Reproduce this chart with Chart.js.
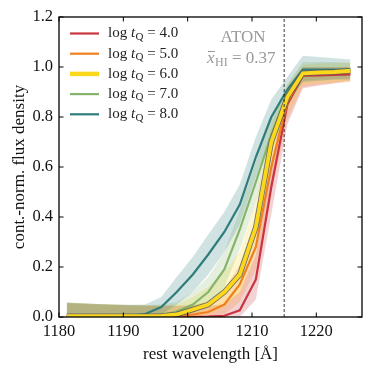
<!DOCTYPE html>
<html><head><meta charset="utf-8">
<script src="https://cdn.jsdelivr.net/npm/chart.js@4"></script>
<style>html,body{margin:0;padding:0;background:#fff;}#wrap{width:373px;height:375px;position:relative;}</style>
</head><body><div id="wrap"><canvas id="c" width="373" height="375"></canvas></div>
<script>
// ---------- data ----------
const wavelength = [1181.2,1183.6,1186.1,1188.5,1191.0,1193.4,1195.9,1198.3,1200.8,1203.2,1205.7,1208.1,1210.6,1213.0,1215.5,1217.9,1220.4,1222.8,1225.3];
const seriesLabels = ['4.0','5.0','6.0','7.0','8.0'];
// log tQ = 4.0
const flux4  = [0.001,0.001,0.001,0.001,0.001,0.001,0.001,0.001,0.001,0.002,0.005,0.027,0.15,0.52,0.85,0.965,0.966,0.968,0.97];
const up4    = [0.055,0.052,0.050,0.048,0.046,0.045,0.044,0.044,0.044,0.045,0.05,0.10,0.25,0.62,0.91,1.0,1.0,1.0,1.0];
const lo4    = [0,0,0,0,0,0,0,0,0,0,0,0.0,0.07,0.41,0.77,0.915,0.925,0.935,0.945];
// log tQ = 5.0
const flux5  = [0.002,0.002,0.002,0.002,0.002,0.002,0.002,0.003,0.01,0.02,0.05,0.13,0.28,0.60,0.86,0.97,0.972,0.975,0.978];
const up5    = [0.057,0.054,0.051,0.049,0.047,0.046,0.045,0.046,0.05,0.06,0.11,0.21,0.37,0.69,0.92,1.0,1.0,1.0,1.0];
const lo5    = [0,0,0,0,0,0,0,0,0,0,0.01,0.06,0.19,0.50,0.79,0.92,0.93,0.935,0.94];
// log tQ = 6.0
const flux6  = [0.003,0.003,0.003,0.003,0.003,0.003,0.004,0.01,0.03,0.05,0.10,0.17,0.36,0.70,0.88,0.975,0.978,0.98,0.985];
const up6    = [0.058,0.055,0.052,0.05,0.048,0.047,0.047,0.05,0.08,0.12,0.18,0.26,0.46,0.77,0.93,1.01,1.015,1.015,1.02];
const lo6    = [0,0,0,0,0,0,0,0,0,0.01,0.04,0.09,0.26,0.61,0.82,0.93,0.935,0.94,0.945];
// log tQ = 7.0
const flux7  = [0.003,0.003,0.003,0.003,0.003,0.003,0.008,0.022,0.05,0.10,0.19,0.35,0.54,0.73,0.89,0.985,0.985,0.985,0.985];
const up7    = [0.058,0.055,0.052,0.05,0.048,0.047,0.05,0.06,0.10,0.16,0.26,0.43,0.62,0.80,0.93,1.02,1.02,1.02,1.015];
const lo7    = [0,0,0,0,0,0,0,0.005,0.02,0.05,0.12,0.27,0.46,0.66,0.84,0.945,0.95,0.95,0.955];
// log tQ = 8.0
const flux8  = [0.003,0.003,0.003,0.003,0.005,0.012,0.04,0.10,0.17,0.25,0.34,0.45,0.64,0.80,0.91,0.99,0.99,0.99,0.99];
const up8    = [0.058,0.055,0.052,0.05,0.049,0.05,0.08,0.16,0.24,0.33,0.42,0.53,0.72,0.87,0.96,1.045,1.04,1.035,1.03];
const lo8    = [0,0,0,0,0,0,0.01,0.05,0.10,0.17,0.26,0.37,0.56,0.73,0.86,0.94,0.945,0.95,0.95];

const xTicks = [1180,1190,1200,1210,1220];
const yTicks = [0.0,0.2,0.4,0.6,0.8,1.0,1.2];
const lyaLine = 1215;
const xRange = [1180,1227.1];
const yRange = [0,1.2];

// ---------- styling ----------
const colors = ['#c9343f','#f07f1d','#fbd81c','#86b46a','#2e7d7b'];
const fluxes = [flux4,flux5,flux6,flux7,flux8];
const ups = [up4,up5,up6,up7,up8];
const los = [lo4,lo5,lo6,lo7,lo8];
const FONT = '"Liberation Serif", "DejaVu Serif", serif';

function pts(arr){ return wavelength.map((w,i)=>({x:w,y:arr[i]})); }
function rgba(hex,a){const n=parseInt(hex.slice(1),16);return `rgba(${n>>16},${(n>>8)&255},${n&255},${a})`;}

const datasets = [];
// bands
for(let s=0;s<5;s++){
  datasets.push({data:pts(ups[s]),borderWidth:0,pointRadius:0,fill:'+1',backgroundColor:rgba(colors[s],0.22),order:20-s,tension:0});
  datasets.push({data:pts(los[s]),borderWidth:0,pointRadius:0,fill:false,order:20-s,tension:0});
}
// lines
const lineOrder = [6,5,1,4,3];
for(let s=0;s<5;s++){
  if(s===2){
    datasets.push({data:pts(fluxes[s]),borderColor:'rgba(90,90,90,0.85)',borderWidth:5.5,pointRadius:0,fill:false,order:2,tension:0});
    datasets.push({data:pts(fluxes[s]),borderColor:colors[s],borderWidth:3.8,pointRadius:0,fill:false,order:1,tension:0});
  } else {
    datasets.push({data:pts(fluxes[s]),borderColor:colors[s],borderWidth:2.2,pointRadius:0,fill:false,order:lineOrder[s],tension:0});
  }
}

const decor = {
  id:'decor',
  afterDatasetsDraw(chart){
    const ctx = chart.ctx, a = chart.chartArea, xs = chart.scales.x, ys = chart.scales.y;
    ctx.save();
    // dashed line
    const xl = xs.getPixelForValue(lyaLine);
    ctx.strokeStyle='#222'; ctx.lineWidth=0.9; ctx.setLineDash([3,2]);
    ctx.beginPath(); ctx.moveTo(xl,a.bottom); ctx.lineTo(xl,a.top); ctx.stroke();
    ctx.setLineDash([]);
    // frame
    ctx.strokeStyle='#000'; ctx.lineWidth=1.3;
    ctx.strokeRect(a.left,a.top,a.right-a.left,a.bottom-a.top);
    // inward ticks
    ctx.lineWidth=1; const L=4.5;
    xTicks.forEach(v=>{const p=xs.getPixelForValue(v);
      ctx.beginPath();ctx.moveTo(p,a.bottom);ctx.lineTo(p,a.bottom-L);ctx.moveTo(p,a.top);ctx.lineTo(p,a.top+L);ctx.stroke();});
    yTicks.forEach(v=>{const p=ys.getPixelForValue(v);
      ctx.beginPath();ctx.moveTo(a.left,p);ctx.lineTo(a.left+L,p);ctx.moveTo(a.right,p);ctx.lineTo(a.right-L,p);ctx.stroke();});
    // legend
    const lx0=70, lx1=99, tx=108, y0=33.5, dy=20.2;
    seriesLabels.forEach((lab,i)=>{
      const y=y0+i*dy;
      ctx.strokeStyle=colors[i]; ctx.lineWidth=(i===2)?4.5:2.2;
      ctx.beginPath();ctx.moveTo(lx0,y);ctx.lineTo(lx1,y);ctx.stroke();
      ctx.fillStyle='#222'; ctx.textBaseline='middle'; ctx.textAlign='left';
      let x=tx;
      ctx.font='15px '+FONT; ctx.fillText('log',x,y); x+=ctx.measureText('log ').width;
      ctx.font='italic 15px '+FONT; ctx.fillText('t',x,y); x+=ctx.measureText('t').width+0.5;
      ctx.font='11px '+FONT; ctx.fillText('Q',x,y+3.5); x+=ctx.measureText('Q').width;
      ctx.font='15px '+FONT; ctx.fillText(' = '+lab,x,y);
    });
    // annotation
    ctx.fillStyle='#999'; ctx.textAlign='center'; ctx.textBaseline='middle';
    ctx.font='17px '+FONT; ctx.fillText('ATON',243,38);
    ctx.textAlign='left';
    let x=207; const y=58.5;
    ctx.font='italic 17px '+FONT; ctx.fillText('x',x,y);
    const xw=ctx.measureText('x').width;
    ctx.strokeStyle='#999'; ctx.lineWidth=1; ctx.beginPath(); ctx.moveTo(x+1,y-7); ctx.lineTo(x+xw+0.5,y-7); ctx.stroke();
    x+=xw+0.5;
    ctx.font='12px '+FONT; ctx.fillText('HI',x,y+4); x+=ctx.measureText('HI').width;
    ctx.font='17px '+FONT; ctx.fillText(' = 0.37',x,y);
    ctx.restore();
  }
};

new Chart(document.getElementById('c'),{
  type:'line',
  data:{datasets},
  options:{
    responsive:false, animation:false, devicePixelRatio:1,
    layout:{padding:{top:17,right:11,left:0,bottom:0}},
    plugins:{legend:{display:false},tooltip:{enabled:false}},
    scales:{
      x:{type:'linear',min:xRange[0],max:xRange[1],
        grid:{display:false,drawTicks:false},border:{display:false},
        afterBuildTicks:s=>{s.ticks=xTicks.map(v=>({value:v}));},
        afterFit:s=>{s.height=58;},
        ticks:{color:'#111',padding:5,maxRotation:0,autoSkip:false,font:{family:FONT,size:16.5},callback:v=>String(v)},
        title:{display:true,text:'rest wavelength [Å]',color:'#111',font:{family:FONT,size:17},padding:{top:0,bottom:10}}},
      y:{type:'linear',min:yRange[0],max:yRange[1],
        grid:{display:false,drawTicks:false},border:{display:false},
        afterBuildTicks:s=>{s.ticks=yTicks.map(v=>({value:v}));},
        afterFit:s=>{s.width=59;},
        ticks:{color:'#111',padding:6,autoSkip:false,font:{family:FONT,size:16.5},callback:v=>Number(v).toFixed(1)},
        title:{display:true,text:'cont.-norm. flux density',color:'#111',font:{family:FONT,size:17},padding:{top:9,bottom:0}}}
    }
  },
  plugins:[decor]
});
</script></body></html>
